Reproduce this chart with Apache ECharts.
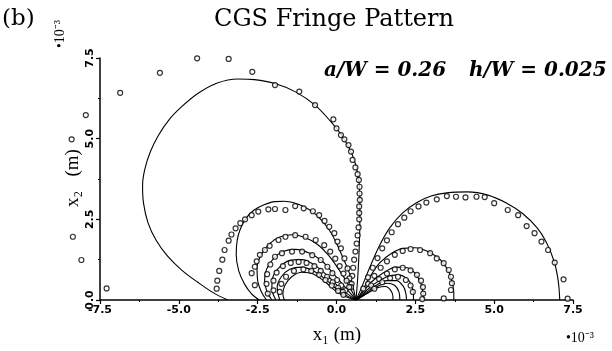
<!DOCTYPE html>
<html>
<head>
<meta charset="utf-8">
<script src="https://cdn.jsdelivr.net/npm/echarts@6/dist/echarts.min.js"></script>
<style>
  html, body { margin: 0; padding: 0; background: #fff; }
  #chart { width: 612px; height: 351px; }
</style>
</head>
<body>
<div id="chart"></div>
<script>
// Axis ticks (units of 1e-3 m)
const xTicks = [-7.5, -5.0, -2.5, 0.0, 2.5, 5.0, 7.5];
const yTicks = [0.0, 2.5, 5.0, 7.5];

// Theoretical fringe contours: lobes behind the tip (left) and ahead of it (right)
const leftFringe1 = [[0.62,0],[0.68,0.8],[0.72,1.6],[0.74,2.4],[0.74,3.2],[0.68,3.9],[0.5,4.5],[0.2,5.05],[-0.2,5.55],[-0.68,6.04],[-1.3,6.45],[-1.95,6.71],[-2.6,6.83],[-3.12,6.85],[-3.8,6.72],[-4.4,6.4],[-4.9,6.0],[-5.3,5.6],[-5.65,5.1],[-5.9,4.6],[-6.08,4.05],[-6.15,3.55],[-6.12,3.0],[-5.98,2.4],[-5.72,1.85],[-5.35,1.35],[-4.9,0.92],[-4.4,0.55],[-3.9,0.22],[-3.45,0]];
const leftFringe2 = [[0.62,0],[0.55,0.3],[0.42,0.8],[0.19,1.34],[-0.02,1.8],[-0.23,2.17],[-0.5,2.5],[-0.77,2.74],[-1.05,2.9],[-1.31,3.0],[-1.65,3.06],[-1.95,3.05],[-2.3,2.95],[-2.62,2.78],[-2.88,2.52],[-3.05,2.2],[-3.15,1.85],[-3.18,1.4],[-3.1,0.9],[-2.92,0.5],[-2.7,0.2],[-2.45,0]];
const leftFringe3 = [[0.62,0],[0.5,0.25],[0.3,0.6],[0.05,0.98],[-0.25,1.38],[-0.6,1.72],[-1.0,1.94],[-1.4,2.02],[-1.8,1.95],[-2.12,1.75],[-2.38,1.42],[-2.52,1.02],[-2.5,0.6],[-2.38,0.25],[-2.22,0]];
const leftFringe4 = [[0.62,0],[0.45,0.2],[0.2,0.48],[-0.1,0.82],[-0.45,1.2],[-0.85,1.45],[-1.3,1.57],[-1.7,1.5],[-2.0,1.28],[-2.22,0.95],[-2.28,0.6],[-2.2,0.25],[-2.05,0]];
const leftFringe5 = [[0.62,0],[0.4,0.15],[0.1,0.38],[-0.25,0.72],[-0.65,1.05],[-1.1,1.25],[-1.5,1.22],[-1.82,1.0],[-2.02,0.7],[-2.05,0.35],[-1.92,0]];
const leftFringe6 = [[0.62,0],[0.35,0.12],[0.05,0.3],[-0.3,0.6],[-0.7,0.88],[-1.1,1.02],[-1.48,0.95],[-1.75,0.72],[-1.88,0.4],[-1.8,0]];
const leftFringe7 = [[0.62,0],[0.3,0.1],[0.0,0.26],[-0.35,0.55],[-0.72,0.8],[-1.1,0.86],[-1.42,0.72],[-1.64,0.45],[-1.7,0.18],[-1.65,0]];
const rightFringe1 = [[0.62,0],[0.8,0.4],[1.05,1.0],[1.37,1.7],[1.7,2.25],[2.1,2.7],[2.55,3.02],[3.0,3.22],[3.5,3.32],[4.15,3.35],[4.8,3.25],[5.4,3.0],[5.9,2.68],[6.35,2.25],[6.65,1.8],[6.9,1.2],[7.03,0.6],[7.08,0]];
const rightFringe2 = [[0.62,0],[0.8,0.25],[1.05,0.7],[1.37,1.15],[1.75,1.45],[2.12,1.6],[2.5,1.62],[2.9,1.5],[3.3,1.24],[3.55,0.9],[3.68,0.5],[3.72,0.2],[3.72,0]];
const rightFringe3 = [[0.62,0],[0.8,0.2],[1.1,0.55],[1.5,0.85],[1.9,1.02],[2.25,1.0],[2.5,0.82],[2.68,0.5],[2.75,0.2],[2.76,0]];
const rightFringe4 = [[0.62,0],[0.85,0.2],[1.2,0.5],[1.6,0.72],[1.95,0.78],[2.25,0.65],[2.4,0.4],[2.44,0.15],[2.44,0]];
const rightFringe5 = [[0.62,0],[0.9,0.2],[1.25,0.45],[1.6,0.6],[1.9,0.6],[2.12,0.42],[2.2,0.2],[2.22,0]];
const rightFringe6 = [[0.62,0],[0.95,0.2],[1.3,0.42],[1.6,0.52],[1.85,0.45],[1.98,0.25],[2.01,0]];
const rightFringe7 = [[0.62,0],[1.0,0.22],[1.3,0.38],[1.55,0.42],[1.72,0.3],[1.79,0.1],[1.79,0]];

// Measured fringe positions
const measuredLeft1 = [[-7.29,0.36],[-8.09,1.24],[-8.36,1.96],[-8.4,4.98],[-7.95,5.73],[-6.86,6.42],[-5.6,7.04],[-4.42,7.49],[-3.42,7.47],[-2.67,7.07],[-1.95,6.66],[-1.18,6.46],[-0.68,6.04],[-0.1,5.6],[0.0,5.32],[0.14,5.11],[0.25,4.98],[0.38,4.8],[0.46,4.6],[0.51,4.34],[0.6,4.11],[0.67,3.9],[0.71,3.72],[0.73,3.51],[0.73,3.3],[0.74,3.1],[0.72,2.9],[0.72,2.7],[0.72,2.5],[0.7,2.25],[0.67,2.0],[0.64,1.75],[0.6,1.5],[0.56,1.25],[0.53,1.0],[0.5,0.75],[0.48,0.5]];
const measuredLeft2 = [[-3.8,0.35],[-3.78,0.6],[-3.72,0.9],[-3.62,1.25],[-3.55,1.55],[-3.42,1.84],[-3.33,2.03],[-3.2,2.22],[-3.05,2.38],[-2.9,2.5],[-2.69,2.63],[-2.48,2.74],[-2.16,2.81],[-1.95,2.82],[-1.62,2.79],[-1.31,2.91],[-1.04,2.84],[-0.75,2.75],[-0.55,2.63],[-0.38,2.45],[-0.23,2.27],[-0.07,2.07],[0.03,1.81],[0.14,1.6],[0.25,1.29],[0.35,0.98],[0.41,0.67],[0.46,0.4]];
const measuredLeft3 = [[-2.59,0.46],[-2.69,0.83],[-2.59,1.03],[-2.53,1.2],[-2.43,1.4],[-2.27,1.55],[-2.12,1.68],[-1.84,1.86],[-1.62,1.96],[-1.31,2.01],[-0.98,1.96],[-0.66,1.86],[-0.39,1.7],[-0.2,1.5],[-0.04,1.28],[0.1,1.05],[0.22,0.82],[0.32,0.6],[0.4,0.4]];
const measuredLeft4 = [[-2.18,0.2],[-2.22,0.5],[-2.2,0.8],[-2.1,1.1],[-1.95,1.34],[-1.73,1.45],[-1.41,1.5],[-1.09,1.5],[-0.77,1.39],[-0.5,1.24],[-0.29,1.03],[-0.13,0.83],[0.02,0.62],[0.15,0.45],[0.28,0.3]];
const measuredLeft5 = [[-2.0,0.3],[-2.0,0.6],[-1.9,0.85],[-1.7,1.05],[-1.45,1.15],[-1.2,1.18],[-0.95,1.15],[-0.7,1.05],[-0.5,0.9],[-0.3,0.72],[-0.12,0.55],[0.05,0.38],[0.2,0.25]];
const measuredLeft6 = [[-1.8,0.25],[-1.75,0.5],[-1.6,0.72],[-1.35,0.9],[-1.05,0.95],[-0.8,0.9],[-0.55,0.78],[-0.35,0.62],[-0.15,0.45],[0.05,0.28],[0.22,0.16]];
const measuredRight1 = [[0.85,0.35],[1.0,0.7],[1.15,1.0],[1.3,1.3],[1.45,1.6],[1.6,1.85],[1.75,2.1],[1.95,2.35],[2.15,2.55],[2.35,2.75],[2.6,2.9],[2.85,3.02],[3.18,3.12],[3.5,3.22],[3.79,3.2],[4.09,3.18],[4.44,3.2],[4.7,3.19],[5.0,3.0],[5.43,2.79],[5.76,2.63],[6.03,2.29],[6.28,2.07],[6.5,1.81],[6.71,1.55],[6.92,1.16],[7.2,0.64],[7.33,0.04]];
const measuredRight2 = [[1.0,0.5],[1.2,0.75],[1.4,1.0],[1.6,1.2],[1.85,1.4],[2.1,1.52],[2.35,1.58],[2.65,1.55],[2.97,1.45],[3.18,1.29],[3.4,1.14],[3.56,0.93],[3.63,0.72],[3.66,0.52],[3.63,0.31],[3.4,0.05]];
const measuredRight3 = [[1.1,0.45],[1.35,0.65],[1.6,0.82],[1.85,0.95],[2.1,1.0],[2.35,0.92],[2.55,0.78],[2.68,0.6],[2.74,0.4],[2.75,0.2],[2.72,0.03]];
const measuredRight4 = [[1.2,0.35],[1.45,0.55],[1.7,0.68],[1.95,0.72],[2.2,0.62],[2.35,0.45],[2.42,0.25]];

const fringeLines = [leftFringe1, leftFringe2, leftFringe3, leftFringe4, leftFringe5, leftFringe6, leftFringe7,
                     rightFringe1, rightFringe2, rightFringe3, rightFringe4, rightFringe5, rightFringe6, rightFringe7];
const measuredSets = [measuredLeft1, measuredLeft2, measuredLeft3, measuredLeft4, measuredLeft5, measuredLeft6,
                      measuredRight1, measuredRight2, measuredRight3, measuredRight4];

const chart = echarts.init(document.getElementById('chart'), null, { renderer: 'canvas' });

const series = [];
fringeLines.forEach(function (pts) {
  series.push({
    type: 'line', data: pts, showSymbol: false, smooth: 0.35, silent: true,
    lineStyle: { color: '#000', width: 1.1 }, z: 2
  });
});
measuredSets.forEach(function (pts) {
  series.push({
    type: 'scatter', data: pts, symbol: 'circle', symbolSize: 5, clip: false, silent: true,
    itemStyle: { color: '#fff', borderColor: '#000', borderWidth: 1.2 }, z: 3
  });
});

const tickFont = { color: '#000', fontFamily: 'DejaVu Sans, sans-serif', fontWeight: 'bold', fontSize: 11 };
const serif = '"DejaVu Serif", serif';
const timesLike = '"Liberation Serif", serif';

function axisCommon(ticks) {
  return {
    type: 'value', min: ticks[0], max: ticks[ticks.length - 1], interval: 2.5,
    axisLine: { show: true, onZero: false, lineStyle: { color: '#000', width: 1.5 } },
    axisTick: { show: true, length: 4, lineStyle: { color: '#000', width: 1.2 } },
    minorTick: { show: true, splitNumber: 2, length: 2, lineStyle: { color: '#000', width: 1 } },
    splitLine: { show: false }
  };
}

const xAxis = axisCommon(xTicks);
xAxis.axisLabel = Object.assign({ margin: 5, showMinLabel: true, showMaxLabel: true,
  formatter: function (v) { return v.toFixed(1); } }, tickFont);
const yAxis = axisCommon(yTicks);
yAxis.axisLabel = Object.assign({ rotate: 90, margin: 4, showMinLabel: true, showMaxLabel: true,
  formatter: function (v) { return v.toFixed(1); } }, tickFont);

chart.setOption({
  animation: false,
  backgroundColor: '#fff',
  grid: { left: 100, right: 39, top: 58, bottom: 51 },
  xAxis: xAxis,
  yAxis: yAxis,
  graphic: [
    { type: 'text', x: 2, y: 19, style: { text: '(b)', font: '23px ' + serif, fill: '#000', textVerticalAlign: 'middle' } },
    { type: 'text', x: 334, y: 20, style: { text: 'CGS Fringe Pattern', font: '24px ' + serif, fill: '#000', textAlign: 'center', textVerticalAlign: 'middle' } },
    { type: 'text', x: 324, y: 71, style: { text: 'a/W = 0.26', font: 'italic bold 20px ' + serif, fill: '#000', textVerticalAlign: 'middle' } },
    { type: 'text', x: 469, y: 71, style: { text: 'h/W = 0.025', font: 'italic bold 20px ' + serif, fill: '#000', textVerticalAlign: 'middle' } },
    { type: 'text', x: 337, y: 335, style: { text: 'x\u2081 (m)', font: '19px ' + timesLike, fill: '#000', textAlign: 'center', textVerticalAlign: 'middle' } },
    { type: 'text', x: 580, y: 338, style: { text: '\u202210\u207B\u00B3', font: '14px ' + timesLike, fill: '#000', textAlign: 'center', textVerticalAlign: 'middle' } },
    { type: 'text', x: 73, y: 178, rotation: Math.PI / 2, style: { text: 'x\u2082   (m)', font: '19px ' + timesLike, fill: '#000', textAlign: 'center', textVerticalAlign: 'middle' } },
    { type: 'text', x: 60, y: 34, rotation: Math.PI / 2, style: { text: '\u202210\u207B\u00B3', font: '14px ' + timesLike, fill: '#000', textAlign: 'center', textVerticalAlign: 'middle' } }
  ],
  series: series
});
</script>
</body>
</html>
